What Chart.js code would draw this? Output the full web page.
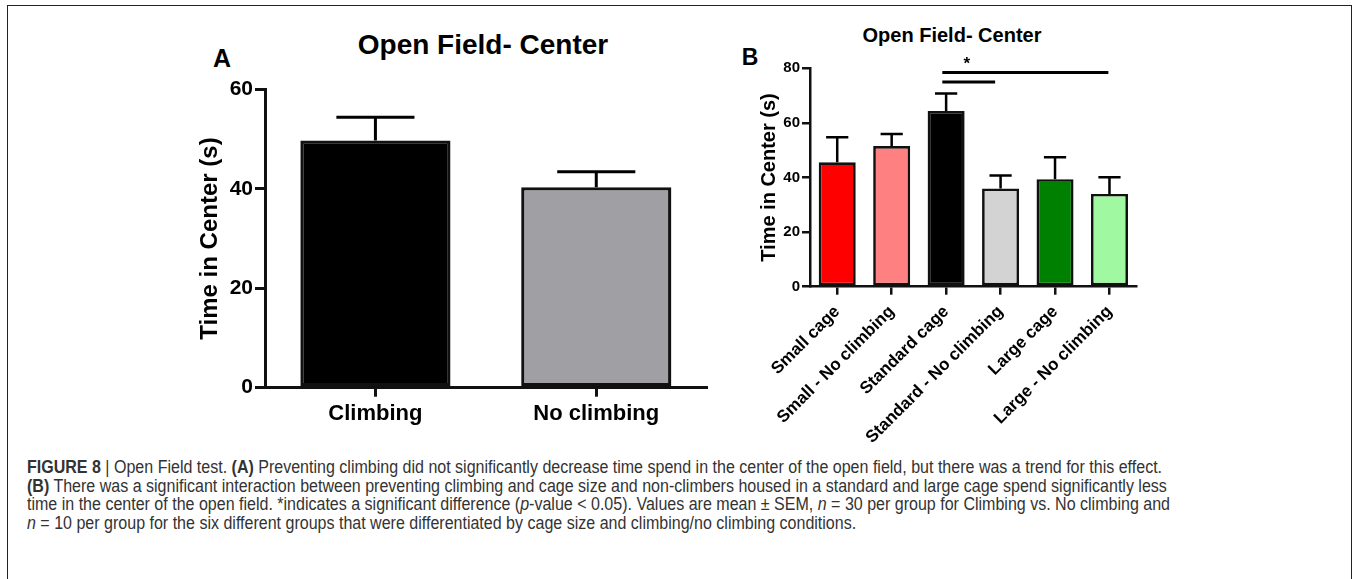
<!DOCTYPE html>
<html>
<head>
<meta charset="utf-8">
<script src="https://cdn.jsdelivr.net/npm/chart.js@4.4.1/dist/chart.umd.min.js"></script>
<style>
  html, body { margin: 0; padding: 0; background: #fff; }
  body { width: 1354px; height: 579px; position: relative; overflow: hidden; font-family: "Liberation Sans", Arial, sans-serif; }
  .frame { position: absolute; left: 7px; top: 5px; width: 1343px; height: 700px; border: 1.5px solid #222; }
  .lbl { position: absolute; transform: translate(-50%, -50%); font-weight: bold; line-height: 1; white-space: nowrap; color: #000; }
  canvas { position: absolute; }
  #cap { position: absolute; left: 27px; top: 458px; color: #333; font-size: 17.5px; line-height: 18.6px;
         font-family: "Liberation Sans Narrow", "Liberation Sans", Arial, sans-serif; }
  #cap div { white-space: nowrap; transform-origin: 0 0; }
</style>
</head>
<body>
<div class="frame"></div>

<div class="lbl" style="left:222px; top:58px; font-size:25px;">A</div>
<div class="lbl" style="left:483px; top:45px; font-size:28px;">Open Field- Center</div>
<div class="lbl" style="left:750px; top:57px; font-size:23px;">B</div>
<div class="lbl" style="left:952px; top:35px; font-size:20px;">Open Field- Center</div>

<canvas id="chartA" width="530" height="420" style="left:185px; top:15px;"></canvas>
<canvas id="chartB" width="430" height="430" style="left:725px; top:15px;"></canvas>

<div id="cap">
  <div><b>FIGURE 8</b> | Open Field test. <b>(A)</b> Preventing climbing did not significantly decrease time spend in the center of the open field, but there was a trend for this effect.</div>
  <div><b>(B)</b> There was a significant interaction between preventing climbing and cage size and non-climbers housed in a standard and large cage spend significantly less</div>
  <div>time in the center of the open field. *indicates a significant difference (<i>p</i>-value &lt; 0.05). Values are mean &plusmn; SEM, <i>n</i> = 30 per group for Climbing vs. No climbing and</div>
  <div><i>n</i> = 10 per group for the six different groups that were differentiated by cage size and climbing/no climbing conditions.</div>
</div>

<script>
// panel A
const groupsA = ['Climbing', 'No climbing'];
const meanA = [49.7, 40.3];
const semA = [4.7, 3.1];
const colorsA = ['#000000', '#a09fa4'];
const yTicksA = [0, 20, 40, 60];

// panel B
const groupsB = ['Small cage', 'Small - No climbing', 'Standard cage', 'Standard - No climbing', 'Large cage', 'Large - No climbing'];
const meanB = [45.6, 51.5, 64.4, 36.0, 39.4, 34.0];
const semB = [9.1, 4.4, 6.4, 4.7, 8.0, 6.1];
const colorsB = ['#ff0000', '#ff8080', '#000000', '#d3d3d3', '#008000', '#a0f8a0'];
const yTicksB = [0, 20, 40, 60, 80];

// significance bars in panel B: [from index, to index, height]
const sigFrom = [1.93, 1.93];
const sigTo = [2.9, 4.98];
const sigY = [75, 78.5];
const starAt = [2.38, 82.5];

Chart.defaults.font.family = '"Liberation Sans", Arial, sans-serif';
Chart.defaults.color = '#000';

const errorBars = {
  id: 'errorBars',
  afterDatasetsDraw(chart, args, opts) {
    const ctx = chart.ctx;
    const y = chart.scales.y;
    const meta = chart.getDatasetMeta(0);
    ctx.save();
    ctx.strokeStyle = '#000';
    ctx.lineWidth = opts.width;
    meta.data.forEach((bar, i) => {
      const top = y.getPixelForValue(opts.mean[i] + opts.sem[i]);
      const half = bar.width * opts.cap / 2;
      ctx.beginPath();
      ctx.moveTo(bar.x, bar.y);
      ctx.lineTo(bar.x, top);
      ctx.moveTo(bar.x - half, top);
      ctx.lineTo(bar.x + half, top);
      ctx.stroke();
    });
    ctx.restore();
  }
};

const sigBars = {
  id: 'sigBars',
  afterDraw(chart, args, opts) {
    if (!opts.on) return;
    const ctx = chart.ctx, x = chart.scales.x, y = chart.scales.y;
    ctx.save();
    ctx.strokeStyle = '#000';
    ctx.lineWidth = 3;
    for (let i = 0; i < sigY.length; i++) {
      ctx.beginPath();
      ctx.moveTo(x.getPixelForValue(sigFrom[i]), y.getPixelForValue(sigY[i]));
      ctx.lineTo(x.getPixelForValue(sigTo[i]), y.getPixelForValue(sigY[i]));
      ctx.stroke();
    }
    ctx.fillStyle = '#000';
    ctx.font = 'bold 17px "Liberation Sans", Arial';
    ctx.textAlign = 'center';
    ctx.textBaseline = 'middle';
    ctx.fillText('*', x.getPixelForValue(starAt[0]), y.getPixelForValue(starAt[1]) + 3);
    ctx.restore();
  }
};

function makeChart(id, o) {
  return new Chart(document.getElementById(id), {
    type: 'bar',
    data: {
      labels: o.labels,
      datasets: [{
        data: o.mean,
        backgroundColor: o.colors,
        borderColor: '#111',
        borderWidth: o.bw,
        borderSkipped: false,
        categoryPercentage: 1,
        barPercentage: 0.68
      }]
    },
    options: {
      responsive: false,
      animation: false,
      devicePixelRatio: 1,
      layout: { padding: o.pad },
      plugins: {
        legend: { display: false },
        tooltip: { enabled: false },
        errorBars: { mean: o.mean, sem: o.sem, width: o.aw, cap: o.cap },
        sigBars: { on: o.sig }
      },
      scales: {
        x: {
          offset: true,
          grid: { offset: false, drawOnChartArea: false, color: '#111', lineWidth: o.aw, tickLength: o.xTick },
          border: { display: true, color: '#111', width: o.aw },
          ticks: { autoSkip: false, minRotation: o.rot, maxRotation: o.rot, padding: o.xPad,
                   font: { size: o.xFont, weight: 'bold' }, color: '#000' },
          afterFit: s => { s.height = o.xH; }
        },
        y: {
          min: 0,
          max: o.yTicks[o.yTicks.length - 1],
          afterBuildTicks: s => { s.ticks = o.yTicks.map(v => ({ value: v })); },
          grid: { drawOnChartArea: false, color: '#111', lineWidth: o.aw, tickLength: o.yTick },
          border: { display: true, color: '#111', width: o.aw },
          ticks: { padding: 2, font: { size: o.yFont, weight: 'bold' }, color: '#000' },
          title: { display: true, text: 'Time in Center (s)', font: { size: o.tFont, weight: 'bold' },
                   padding: { top: o.tPad, bottom: 0 }, color: '#000' },
          afterFit: s => { s.width = o.yW; }
        }
      }
    },
    plugins: [errorBars, sigBars]
  });
}

makeChart('chartA', {
  labels: groupsA, mean: meanA, sem: semA, colors: colorsA, yTicks: yTicksA,
  bw: 3.3, aw: 3, cap: 0.52, sig: false, rot: 0,
  pad: { top: 74.3, right: 8.3, left: 0, bottom: 0 },
  xTick: 9, xPad: 4, xFont: 22, xH: 47.3,
  yTick: 10, yFont: 21, tFont: 24, tPad: 10.6, yW: 80
});

makeChart('chartB', {
  labels: groupsB, mean: meanB, sem: semB, colors: colorsB, yTicks: yTicksB,
  bw: 2.7, aw: 2.5, cap: 0.6, sig: true, rot: 45,
  pad: { top: 53.3, right: 18.3, left: 0, bottom: 0 },
  xTick: 8, xPad: 7, xFont: 17, xH: 158.3,
  yTick: 8, yFont: 15, tFont: 20, tPad: 32, yW: 85
});

// squeeze caption lines to the width used in the figure
const capLines = document.querySelectorAll('#cap div');
const k = (1170 - 27) / capLines[0].getBoundingClientRect().width;
capLines.forEach(d => { d.style.transform = 'scaleX(' + k + ')'; });
</script>
</body>
</html>
